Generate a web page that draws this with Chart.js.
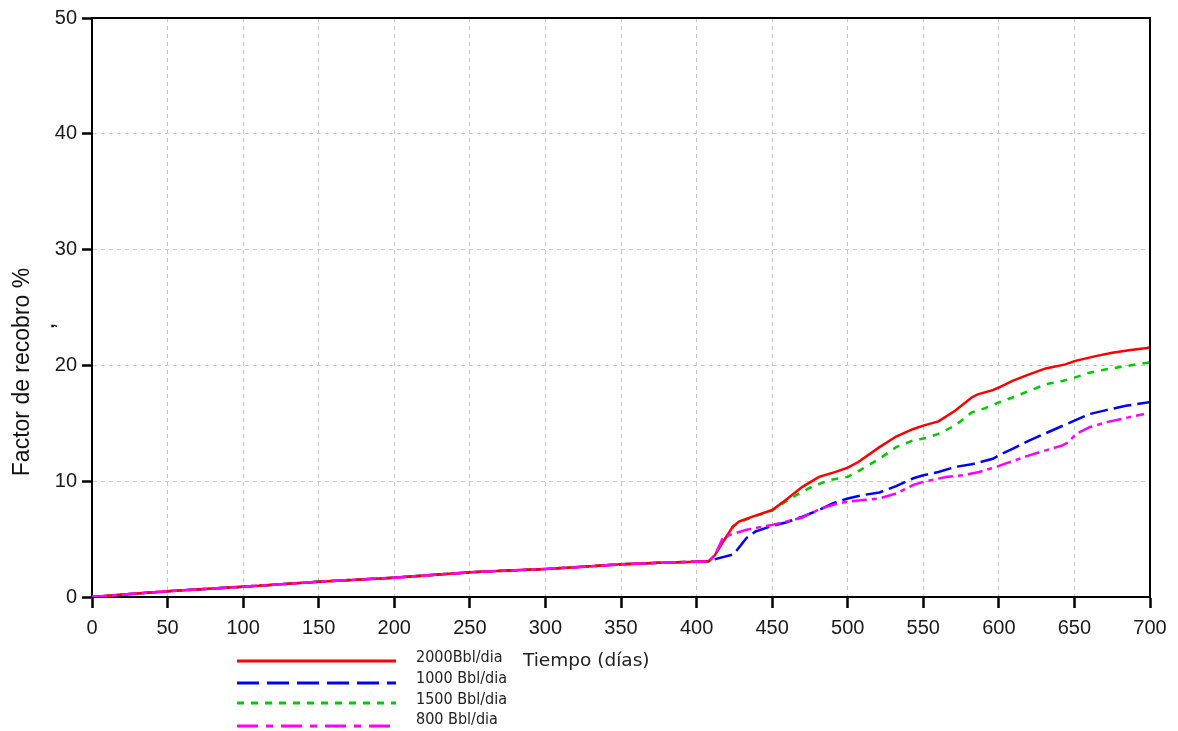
<!DOCTYPE html>
<html>
<head>
<meta charset="utf-8">
<script src="https://cdn.jsdelivr.net/npm/chart.js@4/dist/chart.umd.min.js"></script>
<style>
  html, body { margin: 0; padding: 0; background: #fff; }
  canvas { display: block; }
</style>
</head>
<body>
<canvas id="c" width="1178" height="731"></canvas>
<script>
// Shared primary-recovery stage (days 0-408), common to every injection rate
const baseDays     = [0, 25, 50, 75, 100, 125, 150, 175, 200, 225, 250, 275, 300, 325, 350, 375, 400, 408];
const baseRecovery = [0, 0.25, 0.5, 0.7, 0.89, 1.1, 1.32, 1.5, 1.67, 1.9, 2.13, 2.28, 2.42, 2.62, 2.82, 2.95, 3.05, 3.08];

// Injection stage per rate (days, recovery factor %)
const days2000 = [412, 417, 424, 428, 437, 450, 459, 470, 481, 492, 500, 507, 521, 532, 543, 550, 560, 571, 582, 586, 596, 600, 609, 620, 631, 644, 650, 664, 675, 686, 698, 700];
const rf2000   = [3.6, 4.66, 6.09, 6.51, 6.94, 7.51, 8.37, 9.51, 10.37, 10.8, 11.17, 11.66, 12.94, 13.86, 14.49, 14.8, 15.17, 16.09, 17.23, 17.5, 17.86, 18.09, 18.66, 19.23, 19.74, 20.09, 20.37, 20.8, 21.09, 21.31, 21.51, 21.58];

const days1000 = [413, 424, 427, 433, 439, 450, 459, 470, 481, 490, 500, 510, 521, 532, 543, 550, 560, 571, 582, 596, 602, 609, 620, 631, 640, 650, 660, 671, 684, 698, 700];
const rf1000   = [3.29, 3.66, 4.09, 5.09, 5.66, 6.14, 6.43, 6.94, 7.51, 8.09, 8.51, 8.8, 9.03, 9.57, 10.23, 10.51, 10.8, 11.23, 11.46, 11.94, 12.37, 12.8, 13.51, 14.14, 14.66, 15.23, 15.8, 16.14, 16.51, 16.8, 16.85];

const days1500 = [412, 417, 424, 428, 437, 450, 455, 466, 477, 488, 500, 510, 521, 532, 543, 552, 560, 571, 582, 591, 600, 609, 620, 631, 642, 650, 660, 671, 684, 695, 700];
const rf1500   = [3.6, 4.66, 6.05, 6.45, 6.9, 7.45, 7.9, 8.8, 9.57, 10.09, 10.37, 11.09, 11.94, 12.94, 13.51, 13.74, 14.09, 14.8, 15.94, 16.31, 16.8, 17.23, 17.8, 18.37, 18.66, 18.94, 19.37, 19.66, 19.94, 20.17, 20.25];

const days800 = [412, 417, 422, 433, 444, 450, 459, 470, 481, 492, 500, 510, 521, 532, 543, 550, 565, 576, 587, 598, 609, 620, 631, 642, 646, 651, 660, 671, 684, 696];
const rf800   = [3.6, 5.0, 5.37, 5.8, 6.09, 6.23, 6.51, 6.86, 7.57, 8.03, 8.23, 8.37, 8.51, 8.94, 9.66, 9.94, 10.37, 10.51, 10.8, 11.23, 11.74, 12.23, 12.66, 13.09, 13.37, 14.09, 14.66, 15.09, 15.46, 15.8];

const seriesLabels = ['2000Bbl/dia', '1000 Bbl/dia', '1500 Bbl/dia', '800 Bbl/dia'];
const xTicks = [0, 50, 100, 150, 200, 250, 300, 350, 400, 450, 500, 550, 600, 650, 700];
const yTicks = [0, 10, 20, 30, 40, 50];
const xTitle = 'Tiempo (días)';
const yTitle = 'Factor de recobro %';

const toPoints = (d, v) => d.map((x, i) => ({ x, y: v[i] }));
const withBase = (d, v) => toPoints(baseDays, baseRecovery).concat(toPoints(d, v));

const styles = [
  { color: '#ff0000', dash: [],             legendDash: [] },
  { color: '#0000ff', dash: [18, 6],        legendDash: [22, 8] },
  { color: '#00cc00', dash: [7, 7],         legendDash: [7, 7] },
  { color: '#ff00ff', dash: [15, 5, 5, 5],  legendDash: [21, 8, 7, 8] }
];

const datasets = [
  withBase(days2000, rf2000),
  withBase(days1000, rf1000),
  withBase(days1500, rf1500),
  withBase(days800, rf800)
].map((data, i) => ({
  label: seriesLabels[i],
  data,
  borderColor: styles[i].color,
  backgroundColor: styles[i].color,
  borderDash: styles[i].dash,
  borderWidth: 2.5,
  pointRadius: 0,
  tension: 0,
  fill: false,
  // magenta on top, then red, green, blue underneath
  order: [1, 3, 2, 0][i]
}));

const FONT = "'Liberation Sans', Arial, sans-serif";

const decorations = {
  id: 'decorations',
  afterDraw(chart) {
    const { ctx, chartArea: a } = chart;
    ctx.save();
    // frame on top and right
    ctx.strokeStyle = '#000';
    ctx.lineWidth = 2;
    ctx.beginPath();
    ctx.moveTo(a.left, a.top);
    ctx.lineTo(a.right, a.top);
    ctx.lineTo(a.right, a.bottom);
    ctx.stroke();

    // y axis title
    ctx.fillStyle = '#111';
    ctx.save();
    ctx.translate(23, 372);
    ctx.rotate(-Math.PI / 2);
    ctx.textAlign = 'center';
    ctx.textBaseline = 'middle';
    ctx.font = `23px ${FONT}`;
    ctx.fillText(yTitle, 0, 0);
    ctx.restore();

    // small mark beside the title
    ctx.save();
    ctx.translate(49, 326);
    ctx.rotate(-Math.PI / 2);
    ctx.font = `bold 18px ${FONT}`;
    ctx.textAlign = 'center';
    ctx.textBaseline = 'middle';
    ctx.fillText(',', 0, 0);
    ctx.restore();

    // legend
    const rowY = [661, 683, 703, 726];
    const textY = [658, 679, 700, 720];
    chart.data.datasets.forEach((ds, i) => {
      ctx.save();
      ctx.strokeStyle = ds.borderColor;
      ctx.lineWidth = 3;
      ctx.setLineDash(styles[i].legendDash);
      ctx.beginPath();
      ctx.moveTo(237, rowY[i]);
      ctx.lineTo(396, rowY[i]);
      ctx.stroke();
      ctx.restore();
      ctx.fillStyle = '#222';
      ctx.font = `16px 'DejaVu Sans Condensed', 'DejaVu Sans', sans-serif`;
      ctx.textAlign = 'left';
      ctx.textBaseline = 'middle';
      ctx.fillText(ds.label, 416, textY[i]);
    });

    // x axis title
    ctx.fillStyle = '#222';
    ctx.font = `18.5px 'DejaVu Sans', sans-serif`;
    ctx.textAlign = 'left';
    ctx.textBaseline = 'middle';
    ctx.fillText(xTitle, 523, 661);
    ctx.restore();
  }
};

new Chart(document.getElementById('c'), {
  type: 'line',
  data: { datasets },
  options: {
    responsive: false,
    animation: false,
    events: [],
    layout: { padding: { left: 0, right: 28, top: 18, bottom: 94 } },
    plugins: { legend: { display: false }, tooltip: { enabled: false } },
    scales: {
      x: {
        type: 'linear',
        min: 0, max: 700,
        afterBuildTicks: s => { s.ticks = xTicks.map(v => ({ value: v })); },
        afterFit: s => { s.height = 40; },
        ticks: { color: '#1a1a1a', font: { family: FONT, size: 20 }, padding: 8, maxRotation: 0, autoSkip: false },
        grid: { color: '#c8c8c8', lineWidth: 1, tickLength: 11, tickColor: '#000', tickWidth: 2.5 },
        border: { color: '#000', width: 2, dash: [4, 4] }
      },
      y: {
        type: 'linear',
        min: 0, max: 50,
        afterBuildTicks: s => { s.ticks = yTicks.map(v => ({ value: v })); },
        afterFit: s => { s.width = 92; },
        ticks: { color: '#1a1a1a', font: { family: FONT, size: 20 }, padding: 5 },
        grid: { color: '#c8c8c8', lineWidth: 1, tickLength: 10, tickColor: '#000', tickWidth: 2.5 },
        border: { color: '#000', width: 2, dash: [4, 4] }
      }
    }
  },
  plugins: [decorations]
});
</script>
</body>
</html>
